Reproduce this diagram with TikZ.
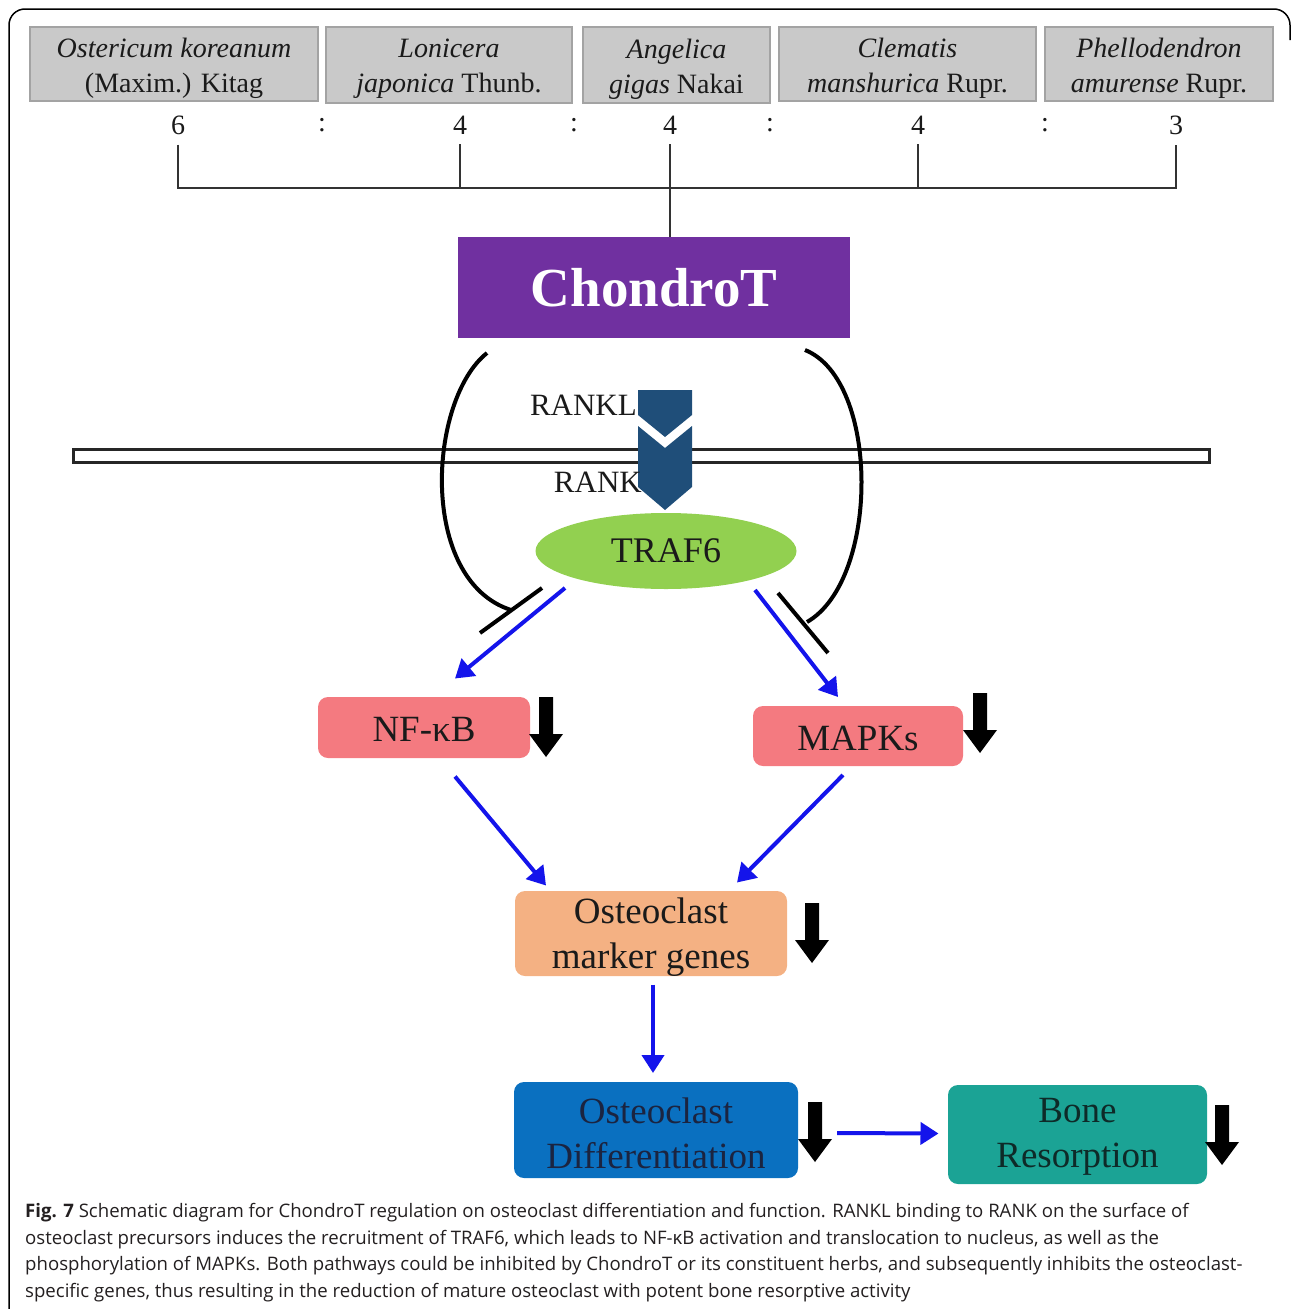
\documentclass[tikz,border=0pt]{standalone}
\usepackage{fontspec}
\setmainfont{Liberation Serif}
\newfontfamily\capfont{Open Sans}
\usetikzlibrary{arrows.meta,shapes.geometric}
\definecolor{grayfill}{HTML}{C9C9C9}
\definecolor{grayline}{HTML}{A3A3A3}
\definecolor{purp}{HTML}{7030A0}
\definecolor{rankblue}{HTML}{1F4E79}
\definecolor{trafgreen}{HTML}{92D050}
\definecolor{pinkbox}{HTML}{F47A80}
\definecolor{peach}{HTML}{F4B183}
\definecolor{bluebox}{HTML}{0A70C0}
\definecolor{teal}{HTML}{1BA395}
\definecolor{arrblue}{RGB}{20,20,235}
\definecolor{txt}{HTML}{1A1A1A}
\definecolor{odtxt}{HTML}{1B2440}
\definecolor{brtxt}{HTML}{0E2A28}
\definecolor{captxt}{HTML}{231F20}
\tikzset{
  graybox/.style={draw=grayline, line width=2pt, fill=grayfill, inner sep=0pt},
  graytext/.style={align=center, inner sep=0pt, font=\fontsize{28}{35}\selectfont, text=txt},
  numlab/.style={inner sep=0pt, font=\fontsize{28}{34}\selectfont, text=txt},
  bracket/.style={draw=black!80, line width=2pt},
  colbox/.style={rounded corners=10pt, inner sep=0pt},
  boxtext/.style={align=center, inner sep=0pt, font=\fontsize{37}{45}\selectfont, text=txt},
  barrow/.style={draw=arrblue, line width=4pt, -{Triangle[length=18pt,width=22pt]}},
  inhib/.style={draw=black, line width=4pt},
  darr/.pic={\fill[black] (-7,0) -- (7,0) -- (7,37) -- (17,37) -- (0,60) -- (-17,37) -- (-7,37) -- cycle;},
  caplab/.style={anchor=west, inner sep=0pt, font=\capfont\fontsize{18.6}{21}\selectfont, text=captxt}
}
\begin{document}
\begin{tikzpicture}[x=1pt,y=-1pt]
\useasboundingbox (0,0) rectangle (1292,1309);
% frame
\draw[line width=1.5pt, rounded corners=16pt] (9,1309) -- (9,9) -- (1290,9) -- (1290,40);

% herb boxes
\node[graybox, minimum width=288pt, minimum height=74pt] (h1) at (174,64) {};
\node[graybox, minimum width=246pt, minimum height=76pt] (h2) at (449,65) {};
\node[graybox, minimum width=187pt, minimum height=76pt] (h3) at (676.5,65) {};
\node[graybox, minimum width=257pt, minimum height=74pt] (h4) at (907.5,64) {};
\node[graybox, minimum width=228pt, minimum height=74pt] (h5) at (1159,64) {};
\node[graytext] (h1t) at ([yshift=-4pt]h1.center) {\itshape Ostericum koreanum\\(Maxim.) Kitag};
\node[graytext] (h2t) at ([yshift=-4pt]h2.center) {\itshape Lonicera\\{\itshape japonica} Thunb.};
\node[graytext] (h3t) at ([yshift=-4pt]h3.center) {\itshape Angelica\\{\itshape gigas} Nakai};
\node[graytext] (h4t) at ([yshift=-4pt]h4.center) {\itshape Clematis\\{\itshape manshurica} Rupr.};
\node[graytext] (h5t) at ([yshift=-4pt]h5.center) {\itshape Phellodendron\\{\itshape amurense} Rupr.};

% ratio
\node[numlab] (n1) at (178,125) {6};
\node[numlab] (c1) at (322,125) {:};
\node[numlab] (n2) at (460,125) {4};
\node[numlab] (c2) at (574,125) {:};
\node[numlab] (n3) at (670,125) {4};
\node[numlab] (c3) at (770,125) {:};
\node[numlab] (n4) at (918,125) {4};
\node[numlab] (c4) at (1045,125) {:};
\node[numlab] (n5) at (1176,125) {3};

% ChondroT
\node[fill=purp, minimum width=392pt, minimum height=101pt, inner sep=0pt, text=white,
  font=\fontsize{55}{60}\selectfont\bfseries] (chondro) at (654,287.5) {ChondroT};

% bracket
\coordinate (bl) at (178,188);
\coordinate (br) at (1176,188);
\draw[bracket] ([yshift=-10pt]n1.south) -- (bl) -- (br) -- ([yshift=-10pt]n5.south);
\draw[bracket] ([yshift=-10pt]n2.south) -- (n2.south |- bl);
\draw[bracket] ([yshift=-10pt]n4.south) -- (n4.south |- bl);
\draw[bracket] ([yshift=-10pt]n3.south) -- (n3.south |- chondro.north);

% membrane
\node[draw=black!85, line width=3pt, fill=white, minimum width=1136pt, minimum height=13pt, inner sep=0pt] (mem) at (641,455.5) {};

% RANKL / RANK
\fill[rankblue] (638,390) -- (692,390) -- (692,415) -- (665,437) -- (638,415) -- cycle;
\fill[rankblue] (638,426) -- (665,448) -- (692,426) -- (692,487) -- (665,510) -- (638,487) -- cycle;
\node[anchor=east, inner sep=0pt, font=\fontsize{31}{34}\selectfont, text=txt] (rankl) at (637,405) {RANKL};
\node[anchor=east, inner sep=0pt, font=\fontsize{31}{34}\selectfont, text=txt] (rank) at (642,482) {RANK};

% TRAF6
\node[ellipse, fill=trafgreen, minimum width=261pt, minimum height=76pt, inner sep=0pt,
  font=\fontsize{36}{40}\selectfont, text=txt] (traf) at (666,551) {TRAF6};

% pathway boxes
\node[colbox, fill=pinkbox, minimum width=212pt, minimum height=61pt] (nfkb) at (424,727.5) {};
\node[boxtext] (nfkbt) at ([yshift=-2pt]nfkb.center) {NF-κB};
\node[colbox, fill=pinkbox, minimum width=210pt, minimum height=60pt] (mapk) at (858,736) {};
\node[boxtext] (mapkt) at ([yshift=-2pt]mapk.center) {MAPKs};
\node[colbox, fill=peach, minimum width=272pt, minimum height=85pt] (omg) at (651,933.5) {};
\node[boxtext] (omgt) at ([yshift=-4pt]omg.center) {Osteoclast\\marker genes};
\node[colbox, fill=bluebox, minimum width=284pt, minimum height=96pt] (od) at (656,1130) {};
\node[boxtext, text=odtxt] (odt) at ([yshift=-3pt]od.center) {Osteoclast\\Differentiation};
\node[colbox, fill=teal, minimum width=259pt, minimum height=99pt] (br2) at (1077.5,1134.5) {};
\node[boxtext, text=brtxt] (br2t) at ([yshift=-2pt]br2.center) {Bone\\Resorption};

% down arrows
\pic at (546,697) {darr};
\pic at (980,693) {darr};
\pic at (812,903) {darr};
\pic at (815,1102) {darr};
\pic at (1222,1105) {darr};

% inhibition curves
\coordinate (cl) at (487,353);
\coordinate (cr) at (805,350);
\draw[inhib] (cl) .. controls (428,400) and (418,580) .. (511,610);
\draw[inhib] (480,633) -- (542,588);
\draw[inhib] (cr) .. controls (880,380) and (880,580) .. (807,622);
\draw[inhib] (778,593) -- (828,653);

% blue arrows
\draw[barrow] ([shift={(-101,37)}]traf.center) -- ([shift={(31,-49)}]nfkb.center);
\draw[barrow] ([shift={(89,39)}]traf.center) -- ([shift={(-20,-39)}]mapk.center);
\draw[barrow] ([shift={(31,49)}]nfkb.center) -- ([shift={(-105,-48)}]omg.center);
\draw[barrow] ([shift={(-15,39)}]mapk.center) -- ([shift={(86,-51)}]omg.center);
\draw[barrow] ([shift={(2,51)}]omg.center) -- ([shift={(-3,-57)}]od.center);
\draw[barrow] ([shift={(181,3)}]od.center) -- ([shift={(-139,-1)}]br2.center);

% caption
\node[caplab] (cap1) at (25,1213) {\textbf{Fig. 7} Schematic diagram for ChondroT regulation on osteoclast differentiation and function. RANKL binding to RANK on the surface of};
\node[caplab] (cap2) at (25,1239.5) {osteoclast precursors induces the recruitment of TRAF6, which leads to NF-κB activation and translocation to nucleus, as well as the};
\node[caplab] (cap3) at (25,1266) {phosphorylation of MAPKs. Both pathways could be inhibited by ChondroT or its constituent herbs, and subsequently inhibits the osteoclast-};
\node[caplab] (cap4) at (25,1292.5) {specific genes, thus resulting in the reduction of mature osteoclast with potent bone resorptive activity};
\end{tikzpicture}
\end{document}
